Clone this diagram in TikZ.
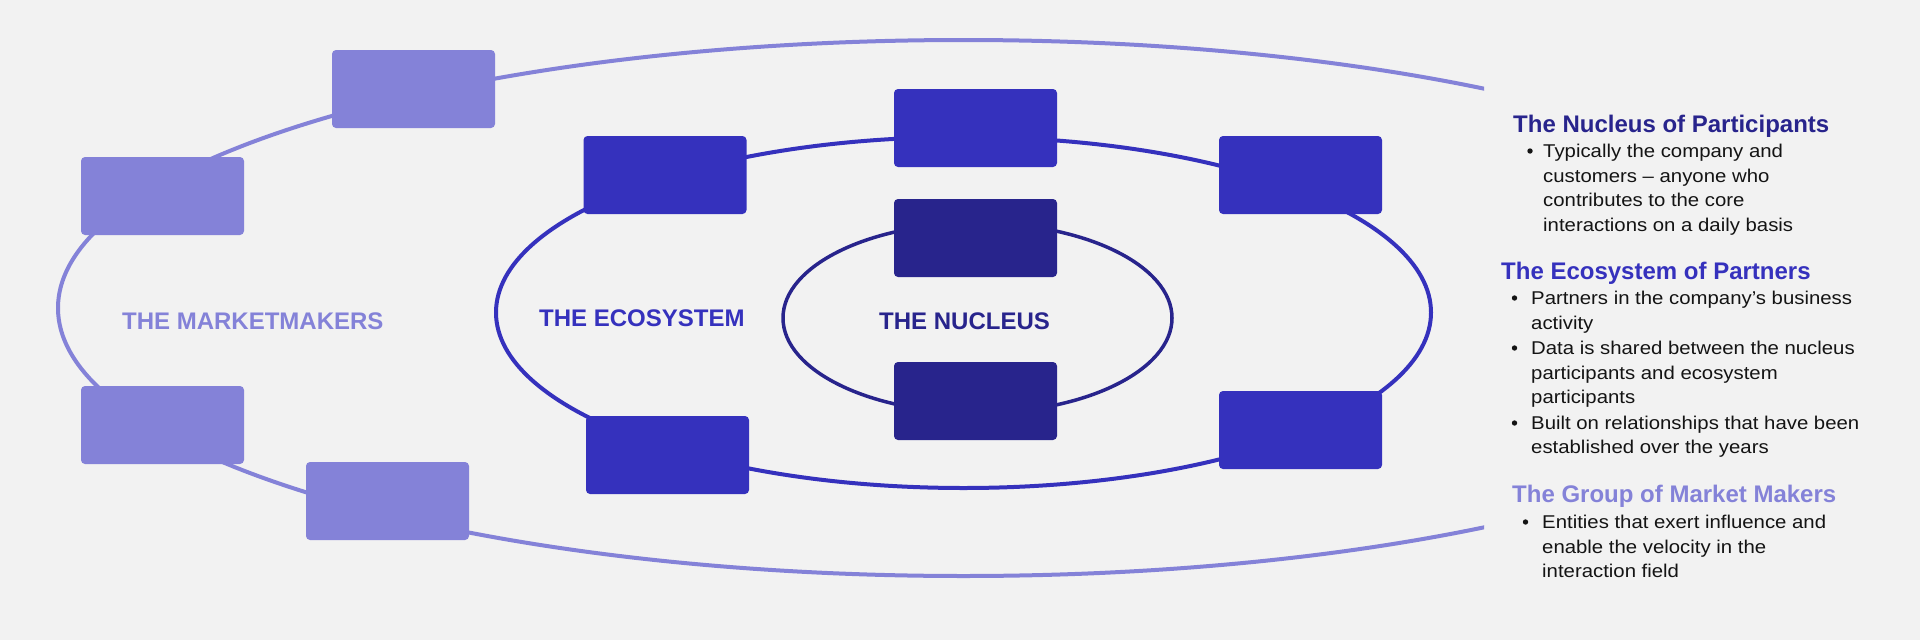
\documentclass[tikz,border=0pt]{standalone}
\usepackage{fontspec}
\newfontfamily\bodyfam[FakeStretch=1.1]{Liberation Sans}
\newfontfamily\headfam{Liberation Sans}
\definecolor{bgc}{HTML}{F2F2F2}
\definecolor{mm}{HTML}{8482D8}
\definecolor{eco}{HTML}{3531BD}
\definecolor{nuc}{HTML}{28248C}
\definecolor{txt}{HTML}{141414}
\tikzset{
  boxbase/.style={rectangle, rounded corners=4pt, minimum width=163pt, minimum height=78pt, inner sep=0pt, draw=none},
  mmbox/.style={boxbase, fill=mm},
  ecobox/.style={boxbase, fill=eco},
  nucbox/.style={boxbase, fill=nuc},
  ring/.style={line width=4pt},
  biglabel/.style={anchor=base west, inner sep=0pt, font=\headfam\bfseries\fontsize{24}{28}\selectfont},
  headtext/.style={anchor=base west, inner sep=0pt, font=\headfam\bfseries\fontsize{24}{28}\selectfont},
  bodytext/.style={anchor=base west, inner sep=0pt, text=txt, font=\bodyfam\fontsize{18.5}{24.7}\selectfont},
  bul/.style={fill=txt}
}
\begin{document}
\begin{tikzpicture}[x=1pt,y=-1pt]
\useasboundingbox (0,0) rectangle (1920,640);
\fill[bgc] (0,0) rectangle (1920,640);

% rings
\begin{scope}
  \clip (0,0) rectangle (1484,640);
  \draw[ring, mm] (963.5,308) ellipse [x radius=905.5pt, y radius=268pt];
\end{scope}
\draw[ring, eco] (963.5,312.5) ellipse [x radius=467.5pt, y radius=175.5pt];
\draw[line width=3.5pt, nuc] (977.5,318) ellipse [x radius=194.5pt, y radius=95pt];

% market maker boxes
\node[mmbox] (mm1) at (413.5,89) {};
\node[mmbox] (mm2) at (162.5,196) {};
\node[mmbox] (mm3) at (162.5,425) {};
\node[mmbox] (mm4) at (387.5,501) {};

% ecosystem boxes
\node[ecobox] (e1) at (665,175) {};
\node[ecobox] (e2) at (975.5,128) {};
\node[ecobox] (e3) at (1300.5,175) {};
\node[ecobox] (e4) at (667.5,455) {};
\node[ecobox] (e5) at (1300.5,430) {};

% nucleus boxes
\node[nucbox] (n1) at (975.5,238) {};
\node[nucbox] (n2) at (975.5,401) {};

% ring labels
\node[biglabel, text=mm] (lmm) at (122,329) {THE MARKETMAKERS};
\node[biglabel, text=eco] (leco) at (539,326) {THE ECOSYSTEM};
\node[biglabel, text=nuc] (lnuc) at (879,329) {THE NUCLEUS};

% right panel
\node[headtext, text=nuc] (h1) at (1513,132) {The Nucleus of Participants};
\fill[bul] (1530,151) circle (2.7pt);
\node[bodytext] (t11) at (1543,157) {Typically the company and};
\node[bodytext] (t12) at (1543,182) {customers – anyone who};
\node[bodytext] (t13) at (1543,206) {contributes to the core};
\node[bodytext] (t14) at (1543,231) {interactions on a daily basis};

\node[headtext, text=eco] (h2) at (1501,279) {The Ecosystem of Partners};
\fill[bul] (1514.5,298) circle (2.7pt);
\node[bodytext] (t21) at (1531,304) {Partners in the company’s business};
\node[bodytext] (t22) at (1531,329) {activity};
\fill[bul] (1514.5,348) circle (2.7pt);
\node[bodytext] (t23) at (1531,354) {Data is shared between the nucleus};
\node[bodytext] (t24) at (1531,379) {participants and ecosystem};
\node[bodytext] (t25) at (1531,403) {participants};
\fill[bul] (1514.5,423) circle (2.7pt);
\node[bodytext] (t26) at (1531,429) {Built on relationships that have been};
\node[bodytext] (t27) at (1531,453) {established over the years};

\node[headtext, text=mm] (h3) at (1512,502) {The Group of Market Makers};
\fill[bul] (1525.5,522) circle (2.7pt);
\node[bodytext] (t31) at (1542,528) {Entities that exert influence and};
\node[bodytext] (t32) at (1542,553) {enable the velocity in the};
\node[bodytext] (t33) at (1542,577) {interaction field};
\end{tikzpicture}
\end{document}
